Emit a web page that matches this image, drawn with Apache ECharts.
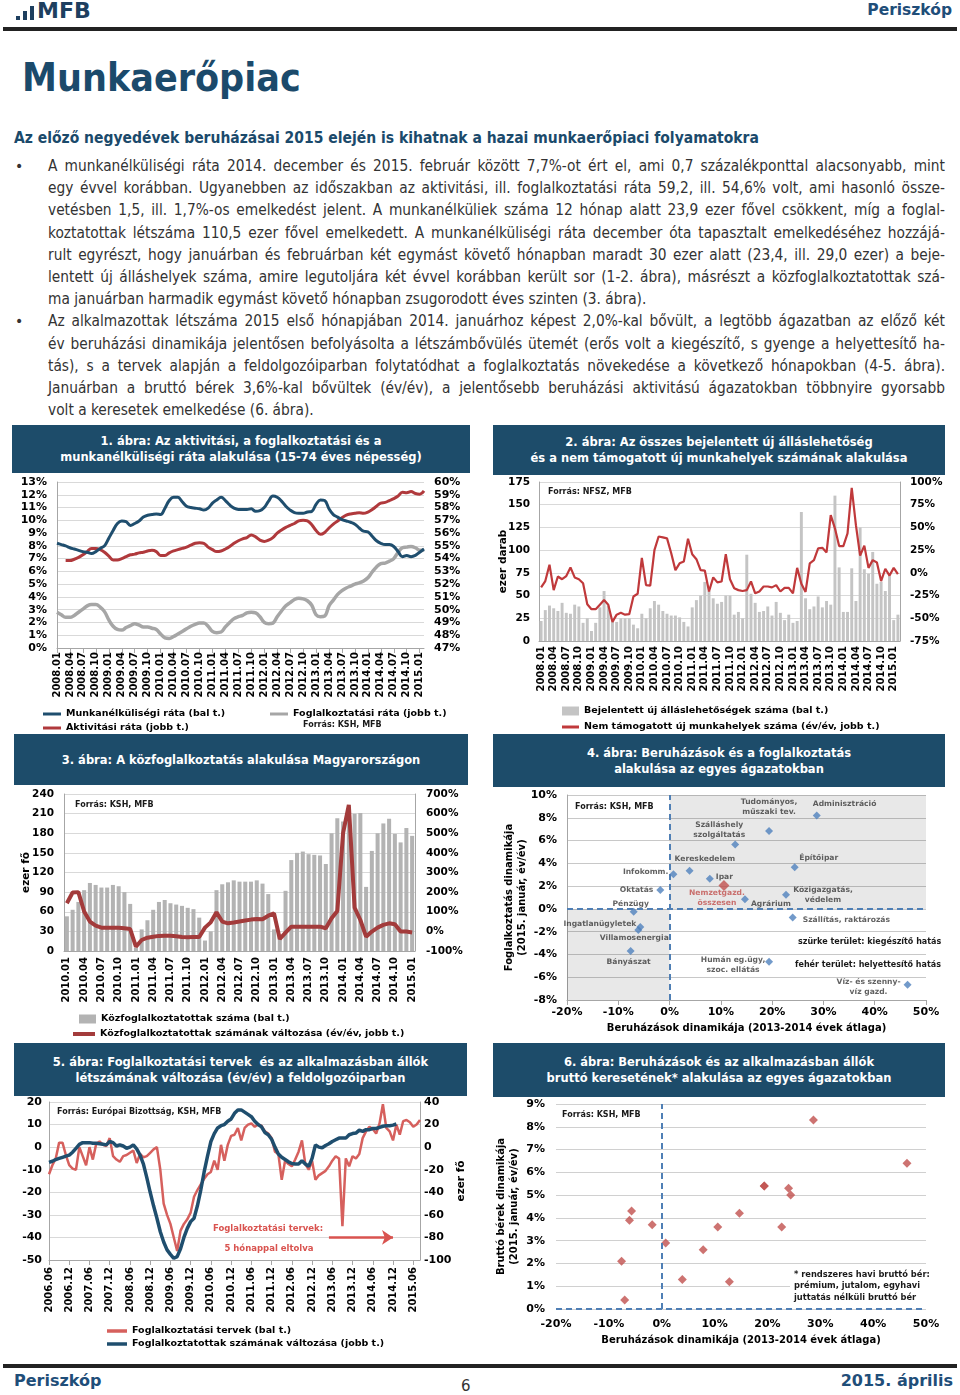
<!DOCTYPE html>
<html lang="hu"><head><meta charset="utf-8"><title>Munkaerőpiac</title>
<script src="https://cdn.jsdelivr.net/npm/echarts@6.0.0/dist/echarts.min.js"></script>
<style>
html,body{margin:0;padding:0;background:#fff;}
body{position:relative;width:960px;height:1395px;overflow:hidden;font-family:"DejaVu Sans",sans-serif;}
.a{position:absolute;}
.lb{position:absolute;background:#1e3f5f;width:4px;}
.hdr{position:absolute;background:#1d4c6a;color:#fff;font-weight:bold;font-size:11.5px;line-height:16px;text-align:center;display:flex;align-items:center;justify-content:center;font-family:"DejaVu Sans",sans-serif;}
.body{position:absolute;left:48px;width:897px;top:155px;font-family:"DejaVu Sans Condensed","DejaVu Sans",sans-serif;font-stretch:condensed;font-size:15.3px;line-height:22.2px;color:#333;}
.body div{text-align:justify;text-align-last:justify;}
.body div.l{text-align-last:left;}
.bul{position:absolute;left:15px;font-size:14px;color:#333;}
.ch{position:absolute;width:470px;}
</style></head>
<body>
<div class="lb" style="left:16px;top:16px;height:4px;"></div>
<div class="lb" style="left:23px;top:11px;height:9px;"></div>
<div class="lb" style="left:30px;top:6px;height:14px;"></div>
<div class="a" style="left:37px;top:-2px;font-weight:bold;font-size:22px;line-height:26px;color:#1e3f5f;">MFB</div>
<div class="a" style="right:8px;top:0px;font-weight:bold;font-size:15.5px;line-height:20px;color:#1f4e79;">Periszkóp</div>
<div class="a" style="left:3px;top:27px;width:954px;height:4px;background:#222;"></div>

<div class="a" style="left:22px;top:55px;font-family:'DejaVu Sans Condensed','DejaVu Sans',sans-serif;font-stretch:condensed;font-weight:bold;font-size:39px;line-height:46px;color:#1b4a6b;">Munkaerőpiac</div>
<div class="a" style="left:14px;top:128px;font-family:'DejaVu Sans Condensed','DejaVu Sans',sans-serif;font-stretch:condensed;font-weight:bold;font-size:15.5px;line-height:20px;color:#1b4a6b;">Az előző negyedévek beruházásai 2015 elején is kihatnak a hazai munkaerőpiaci folyamatokra</div>

<div class="bul" style="top:155px;line-height:22px;">•</div>
<div class="bul" style="top:310px;line-height:22px;">•</div>
<div class="body">
<div>A munkanélküliségi ráta 2014. december és 2015. február között 7,7%-ot ért el, ami 0,7 százalékponttal alacsonyabb, mint</div>
<div>egy évvel korábban. Ugyanebben az időszakban az aktivitási, ill. foglalkoztatási ráta 59,2, ill. 54,6% volt, ami hasonló össze-</div>
<div>vetésben 1,5, ill. 1,7%-os emelkedést jelent. A munkanélküliek száma 12 hónap alatt 23,9 ezer fővel csökkent, míg a foglal-</div>
<div>koztatottak létszáma 110,5 ezer fővel emelkedett. A munkanélküliségi ráta december óta tapasztalt emelkedéséhez hozzájá-</div>
<div>rult egyrészt, hogy januárban és februárban két egymást követő hónapban maradt 30 ezer alatt (23,4, ill. 29,0 ezer) a beje-</div>
<div>lentett új álláshelyek száma, amire legutoljára két évvel korábban került sor (1-2. ábra), másrészt a közfoglalkoztatottak szá-</div>
<div class="l">ma januárban harmadik egymást követő hónapban zsugorodott éves szinten (3. ábra).</div>
<div>Az alkalmazottak létszáma 2015 első hónapjában 2014. januárhoz képest 2,0%-kal bővült, a legtöbb ágazatban az előző két</div>
<div>év beruházási dinamikája jelentősen befolyásolta a létszámbővülés ütemét (erős volt a kiegészítő, s gyenge a helyettesítő ha-</div>
<div>tás), s a tervek alapján a feldolgozóiparban folytatódhat a foglalkoztatás növekedése a következő hónapokban (4-5. ábra).</div>
<div>Januárban a bruttó bérek 3,6%-kal bővültek (év/év), a jelentősebb beruházási aktivitású ágazatokban többnyire gyorsabb</div>
<div class="l">volt a keresetek emelkedése (6. ábra).</div>
</div>

<div class="hdr" style="left:12px;top:425px;width:458px;height:48px;"><span>1. ábra: Az aktivitási, a foglalkoztatási és a<br>munkanélküliségi ráta alakulása (15-74 éves népesség)</span></div>
<div class="hdr" style="left:493px;top:425px;width:452px;height:50px;"><span>2. ábra: Az összes bejelentett új álláslehetőség<br>és a nem támogatott új munkahelyek számának alakulása</span></div>
<div class="hdr" style="left:14px;top:734px;width:454px;height:51px;"><span>3. ábra: A közfoglalkoztatás alakulása Magyarországon</span></div>
<div class="hdr" style="left:493px;top:734px;width:452px;height:53px;"><span>4. ábra: Beruházások és a foglalkoztatás<br>alakulása az egyes ágazatokban</span></div>
<div class="hdr" style="left:14px;top:1043px;width:453px;height:53px;"><span>5. ábra: Foglalkoztatási tervek&nbsp; és az alkalmazásban állók<br>létszámának változása (év/év) a feldolgozóiparban</span></div>
<div class="hdr" style="left:493px;top:1043px;width:452px;height:54px;"><span>6. ábra: Beruházások és az alkalmazásban állók<br>bruttó keresetének* alakulása az egyes ágazatokban</span></div>

<div id="c1" class="ch" style="left:10px;top:473px;height:260px;"></div>
<div id="c2" class="ch" style="left:490px;top:475px;height:258px;"></div>
<div id="c3" class="ch" style="left:10px;top:787px;height:253px;"></div>
<div id="c4" class="ch" style="left:490px;top:787px;height:253px;"></div>
<div id="c5" class="ch" style="left:10px;top:1097px;height:263px;"></div>
<div id="c6" class="ch" style="left:490px;top:1097px;height:263px;"></div>

<div class="a" style="left:3px;top:1364px;width:954px;height:4px;background:#222;"></div>
<div class="a" style="left:14px;top:1371px;font-weight:bold;font-size:16px;line-height:20px;color:#1f4e79;">Periszkóp</div>
<div class="a" style="left:461px;top:1376px;font-size:15px;line-height:20px;color:#333;">6</div>
<div class="a" style="right:7px;top:1371px;font-weight:bold;font-size:16px;line-height:20px;color:#1f4e79;">2015. április</div>

<script>
// ---------- helpers (labels only) ----------
function months(y, m, n) {
  const a = [];
  for (let i = 0; i < n; i++) { a.push(y + '.' + String(m).padStart(2, '0')); m++; if (m > 12) { m = 1; y++; } }
  return a;
}

// ---------- Chart 1 data ----------
const cat1 = months(2008, 1, 86);
const unemployment = [8.2, 8.1, 8.0, 7.85, 7.75, 7.65, 7.55, 7.5, 7.4, 7.55, 7.8, 8.0,
  8.6, 9.2, 9.75, 9.95, 9.9, 9.6, 9.75, 9.95, 10.25, 10.4, 10.45, 10.5,
  10.45, 10.95, 11.55, 11.8, 11.8, 11.45, 11.1, 11.0, 10.95, 10.9, 10.8, 10.95,
  11.35, 11.6, 11.8, 11.55, 11.2, 10.95, 10.85, 10.85, 10.85, 10.9, 10.7, 10.75,
  11.0, 11.5, 11.9, 11.8, 11.5, 11.1, 10.8, 10.6, 10.55, 10.55, 10.65, 10.7,
  11.25, 11.6, 11.55, 10.9, 10.45, 10.25, 10.05, 9.95, 9.85, 9.7, 9.4, 9.15,
  9.1, 8.75, 8.4, 8.2, 8.1, 8.1, 7.95, 7.55, 7.15, 7.25, 7.15, 7.25,
  7.5, 7.75];
const activity = [null, null, 53.85, 53.85, 53.95, 54.1, 54.3, 54.55, 54.8, 54.8, 54.7, 54.5,
  54.2, 53.9, 53.9, 54.0, 54.15, 54.3, 54.35, 54.45, 54.5, 54.6, 54.65, 54.55,
  54.25, 54.25, 54.45, 54.6, 54.7, 54.8, 54.9, 55.05, 55.2, 55.25, 55.2, 54.9,
  54.7, 54.55, 54.6, 54.75, 54.95, 55.2, 55.4, 55.55, 55.65, 55.85, 55.7, 55.45,
  55.35, 55.45, 55.65, 56.0, 56.25, 56.45, 56.6, 56.75, 56.95, 57.0, 56.95, 56.65,
  56.2, 55.9, 56.05, 56.4, 56.7, 56.95, 57.2, 57.4, 57.5, 57.55, 57.6, 57.55,
  57.65, 57.85, 58.1, 58.35, 58.4, 58.55, 58.7, 58.9, 59.2, 59.15, 59.25, 59.1,
  59.05, 59.3];
const employment = [49.8, 49.6, 49.4, 49.4, 49.55, 49.8, 50.05, 50.3, 50.4, 50.4, 50.2, 49.85,
  49.2, 48.7, 48.45, 48.4, 48.6, 48.75, 48.9, 48.8, 48.65, 48.65, 48.55, 48.45,
  48.1, 47.8, 47.75, 47.9, 48.1, 48.3, 48.5, 48.7, 48.85, 48.95, 48.95, 48.7,
  48.3, 48.2, 48.25, 48.65, 49.0, 49.3, 49.45, 49.55, 49.75, 49.8, 49.75, 49.45,
  49.0, 48.9, 48.95, 49.45, 49.9, 50.3, 50.55, 50.8, 50.9, 50.85, 50.7, 50.35,
  49.6, 49.45, 49.5, 50.3, 50.75, 51.2, 51.5, 51.7, 51.85, 52.0, 52.1, 52.25,
  52.5, 52.95, 53.35, 53.6, 53.65, 53.8, 54.0, 54.5, 54.85, 54.9, 54.95, 54.85,
  54.65, 54.7];

// ---------- Chart 2 data ----------
const cat2 = months(2008, 1, 86);
const newVacancies = [22, 34, 39, 36, 33, 42, 31, 30, 40, 38, 20, 25,
  11, 20, 37, 55, 39, 21, 21, 25, 25, 25, 18, 14,
  30, 25, 36, 44, 40, 33, 30, 28, 28, 26, 21, 16,
  37, 45, 50, 65, 55, 47, 41, 43, 50, 50, 29, 32,
  25, 95, 52, 42, 32, 33, 38, 28, 43, 31, 23, 29,
  20, 22, 142, 47, 35, 38, 49, 37, 44, 40, 160, 81,
  32, 32, 80, 44, 125, 79, 74, 98, 63, 65, 55, 72,
  23, 29];
const unsupportedJobsYoY = [-16, -9, 9, -19, -4, -7, -3.5, 6, -5, -7, -11.5, -34.5,
  -40, -40, -35, -30, -35, -54, -46, -44, -46, -45.5, -26, -23,
  16.5, -13.5, -14, 25, 40, 39, 38, 21.5, 3, 10.5, 12.5, 37.5,
  20.5, 15, 3, 2.5, -20.5, -5, -10.5, -9.5, 20.5, -7, -17, -19,
  -20, -19, -9.5, -22.5, -20.5, -15, -15, -16, -13.5, -20.5, -16.5, -16.5,
  -22.5, 5.5, -12, -21, 10.5, 14, 27, 27.5, 22.5, 63.5, 49, 29.5,
  29.5, 43.5, 93.5, 52.5, 19, 30, 5.5, 14, 11.5, -9, 4.5, -3,
  5.5, -1.5];

// ---------- Chart 3 data ----------
const cat3 = months(2010, 1, 61);
const publicWorkers = [53, 63, 75, 93, 104, 101, 97, 97, 101, 99, 90, 72,
  5, 33, 47, 63, 75, 78, 73, 71, 69, 66, 64, 51,
  16, 30, 93, 102, 105, 108, 106, 106, 106, 108, 103, 87,
  33, 25, 92, 139, 150, 152, 148, 147, 146, 133, 180, 203,
  198, 205, 210, 211, 98, 153, 180, 195, 202, 179, 166, 188,
  176];
const publicWorkersYoY = [143, 198, 200, 101, 50, 29, 19, 19, 19, 19, 16, 12,
  -78, -44, -32, -27, -23, -22, -22, -25, -28.5, -30, -28.5, -28.5,
  19, 46, 97, 50, 41, 45, 50, 55, 60, 63, 62, 80,
  92, -39, -6, 24, 24, 24, 24, 24, 24, 16, 67, 104,
  501, 645, 121, 58, -27, -1, 19, 33, 41, 36, -1, -1,
  -6];

// ---------- Chart 4 & 6 data ----------
const sectors = ['Adminisztráció', 'Tudományos,\nműszaki tev.', 'Szálláshely\nszolgáltatás', 'Építőipar',
  'Kereskedelem', 'Infokomm.', 'Ipar', 'Nemzetgazd.\nösszesen', 'Oktatás', 'Közigazgatás,\nvédelem',
  'Agrárium', 'Pénzügy', 'Szállítás, raktározás', 'Ingatlanügyletek', 'Villamosenergia', 'Bányászat',
  'Humán eg.ügy,\nszoc. ellátás', 'Víz- és szenny-\nvíz gazd.'];
const investmentGrowth = [28.7, 19.4, 12.8, 24.4, 3.9, 0.75, 7.85, 10.6, -1.8, 22.7, 14.7, -7.0, 24.0, -5.7, -6.1, -7.6, 19.4, 46.4];
const employmentGrowth = [8.2, 6.85, 5.65, 3.65, 3.35, 3.05, 2.65, 2.05, 1.65, 1.25, 0.85, -0.25, -0.75, -1.6, -1.85, -3.7, -4.65, -6.65];
const wageGrowth = [8.3, 5.4, 1.2, 5.0, 1.3, 2.9, 2.6, 3.6, 3.7, 3.6, 4.2, 0.4, 5.3, 4.3, 3.9, 2.1, 5.4, 6.4];

// ---------- Chart 5 data ----------
const cat5 = months(2006, 6, 111);
const hiringPlans = [-12, -8, -5, 2, 2, -3.5, -8, -9.5, -10, 0, -4, -8,
  0, -5.5, 1.5, 2.5, 1, 0.5, 4, -4, -5.5, -6.5, -4, -3.5,
  -2.5, -1.5, -7, -3, -4.5, -4, -2.5, -1, 0, -10, -25, -30,
  -34, -40, -46, -37, -34, -32, -29, -22, -19, -16.5, -14, -12,
  -11, -6, -10, 1, -6, 1, 5, 5.5, 8.5, 3, 8.5, 10,
  10.5, 9, 10, 9.5, 7, 6, 4, -2, -3, -14.5, -6, -7.5,
  -8.5, -5.5, -2, 3, -7.5, -10, -6, -14.5, -12.5, -11.5, -10.5, -8.5,
  -6, -4, -5, -35, -5, -8.5, -4, -5, -3, 4, 7, 9,
  8, 6, 10.5, 19, 8.5, 7, 3, 10, 5.5, 11.5, 12, 11,
  9, 10, 12];
const employedChange = [-13.5, -12.5, -11, -10, -9, -8, -7, -4.5, -1, 2.5, 4, 4,
  4, 3.5, 3.5, 3, 2.5, 2, 5, 4, 1, 2, 1, -1,
  0, 2, -1.5, -7, -15, -27, -40, -52, -63, -75, -84, -91,
  -95, -98.5, -97, -90, -80, -72, -66, -63, -52, -38, -22, -8,
  5, 12, 17, 19, 20, 23, 25, 30, 33, 33, 31, 29,
  27, 23, 20, 18, 13, 11, 7, 0, -6, -9, -11, -13,
  -14.5, -15, -15, -12, -15, -17, -10, 2, 0, -0.5, 1.5, 3,
  5, 6.5, 8, 8, 8, 11, 12, 12.5, 15, 14, 15.5, 15.5,
  16.5, 16.5, 17.5, 18.5, 19, 19, 19.5, 20.5,
  null, null, null, null, null, null, null];

// ---------- styling ----------
const F = 'DejaVu Sans';
const AX = '#a6a6a6', GRIDC = '#d9d9d9';
function lab(o) { return Object.assign({ fontFamily: F, fontWeight: 'bold', fontSize: 10.5, color: '#000' }, o || {}); }
function src(text, left, top) {
  return { type: 'text', left: left, top: top, z: 100, style: { text: text, font: 'bold 8px "DejaVu Sans"', fill: '#1a1a1a' } };
}
function leg(name, left, top, w, h) {
  return { left: left, top: top, itemWidth: w, itemHeight: h, icon: 'rect', textStyle: lab({ fontSize: 9.5 }), data: [name] };
}
const BLUE = '#1f4e6e', RED1 = '#b0393c', GRAY1 = '#a6a6a6';

// ---------- Chart 1 ----------
const c1 = echarts.init(document.getElementById('c1'));
c1.setOption({
  animation: false,
  grid: { left: 47, right: 56, top: 9, bottom: 85, outerBoundsMode: 'none' },
  legend: [
    leg('Munkanélküliségi ráta (bal t.)', 28, 231, 18, 3),
    leg('Aktivitási ráta (jobb t.)', 28, 245, 18, 3),
    leg('Foglalkoztatási ráta (jobb t.)', 255, 231, 18, 3)
  ],
  graphic: [src('Forrás: KSH, MFB', 293, 248)],
  xAxis: { type: 'category', data: cat1, boundaryGap: false,
    axisLine: { onZero: false, lineStyle: { color: AX } }, axisTick: { interval: 2, lineStyle: { color: AX } },
    axisLabel: lab({ interval: 2, rotate: 90, fontSize: 10, margin: 4 }), splitLine: { show: false } },
  yAxis: [
    { type: 'value', min: 0, max: 13, interval: 1, axisLine: { show: true, lineStyle: { color: AX } }, axisTick: { show: false },
      splitLine: { lineStyle: { color: GRIDC } }, axisLabel: lab({ fontSize: 11, margin: 10, formatter: '{value}%' }) },
    { type: 'value', min: 47, max: 60, interval: 1, axisLine: { show: false }, axisTick: { show: false },
      splitLine: { show: false }, axisLabel: lab({ fontSize: 11, margin: 10, formatter: '{value}%' }) }
  ],
  series: [
    { name: 'Foglalkoztatási ráta (jobb t.)', type: 'line', yAxisIndex: 1, data: employment, showSymbol: false, smooth: 0.4,
      lineStyle: { color: GRAY1, width: 3.5 }, itemStyle: { color: GRAY1 } },
    { name: 'Aktivitási ráta (jobb t.)', type: 'line', yAxisIndex: 1, data: activity, showSymbol: false, smooth: 0.4,
      lineStyle: { color: RED1, width: 3 }, itemStyle: { color: RED1 } },
    { name: 'Munkanélküliségi ráta (bal t.)', type: 'line', yAxisIndex: 0, data: unemployment, showSymbol: false, smooth: 0.4,
      lineStyle: { color: BLUE, width: 3 }, itemStyle: { color: BLUE } }
  ]
});

// ---------- Chart 2 ----------
const c2 = echarts.init(document.getElementById('c2'));
c2.setOption({
  animation: false,
  grid: { left: 49, right: 60, top: 7, bottom: 92, outerBoundsMode: 'none' },
  legend: [
    leg('Bejelentett új álláslehetőségek száma (bal t.)', 67, 226, 17, 9),
    leg('Nem támogatott új munkahelyek száma (év/év, jobb t.)', 67, 242, 17, 3)
  ],
  graphic: [src('Forrás: NFSZ, MFB', 58, 13)],
  xAxis: { type: 'category', data: cat2, boundaryGap: true,
    axisLine: { onZero: false, lineStyle: { color: AX } }, axisTick: { interval: 2, lineStyle: { color: AX } },
    axisLabel: lab({ interval: 2, rotate: 90, fontSize: 10, margin: 5 }) },
  yAxis: [
    { type: 'value', min: 0, max: 175, interval: 25, name: 'ezer darab', nameLocation: 'middle', nameRotate: 90, nameGap: 30,
      nameMoveOverlap: false, nameTextStyle: lab({ fontSize: 10.5 }),
      axisLine: { show: true, lineStyle: { color: AX } }, axisTick: { show: false },
      splitLine: { lineStyle: { color: GRIDC } }, axisLabel: lab({ margin: 9 }) },
    { type: 'value', min: -75, max: 100, interval: 25, axisLine: { show: true, lineStyle: { color: AX } }, axisTick: { show: false },
      splitLine: { show: false }, axisLabel: lab({ margin: 10, formatter: '{value}%' }) }
  ],
  series: [
    { name: 'Bejelentett új álláslehetőségek száma (bal t.)', type: 'bar', data: newVacancies, barCategoryGap: '30%',
      itemStyle: { color: '#c4c4c4' } },
    { name: 'Nem támogatott új munkahelyek száma (év/év, jobb t.)', type: 'line', yAxisIndex: 1, data: unsupportedJobsYoY,
      showSymbol: false, lineStyle: { color: '#c0393b', width: 2.2 }, itemStyle: { color: '#c0393b' } }
  ]
});

// ---------- Chart 3 ----------
const c3 = echarts.init(document.getElementById('c3'));
c3.setOption({
  animation: false,
  grid: { left: 54, right: 65, top: 7, bottom: 89, outerBoundsMode: 'none' },
  legend: [
    leg('Közfoglalkoztatottak száma (bal t.)', 64, 222, 17, 9),
    leg('Közfoglalkoztatottak számának változása (év/év, jobb t.)', 58, 237, 22, 4)
  ],
  graphic: [src('Forrás: KSH, MFB', 65, 14)],
  xAxis: { type: 'category', data: cat3, boundaryGap: true,
    axisLine: { onZero: false, lineStyle: { color: AX } }, axisTick: { interval: 2, lineStyle: { color: AX } },
    axisLabel: lab({ interval: 2, rotate: 90, fontSize: 10, margin: 6 }) },
  yAxis: [
    { type: 'value', min: 0, max: 240, interval: 30, name: 'ezer fő', nameLocation: 'middle', nameRotate: 90, nameGap: 32,
      nameMoveOverlap: false, nameTextStyle: lab({ fontSize: 10.5 }),
      axisLine: { show: true, lineStyle: { color: AX } }, axisTick: { show: false },
      splitLine: { lineStyle: { color: GRIDC } }, axisLabel: lab({ margin: 10 }) },
    { type: 'value', min: -100, max: 700, interval: 100, axisLine: { show: true, lineStyle: { color: AX } }, axisTick: { show: false },
      splitLine: { show: false }, axisLabel: lab({ margin: 11, formatter: '{value}%' }) }
  ],
  series: [
    { name: 'Közfoglalkoztatottak száma (bal t.)', type: 'bar', data: publicWorkers, barCategoryGap: '30%',
      itemStyle: { color: '#b3b3b3' } },
    { name: 'Közfoglalkoztatottak számának változása (év/év, jobb t.)', type: 'line', yAxisIndex: 1, data: publicWorkersYoY,
      showSymbol: false, lineStyle: { color: '#a33b3b', width: 4 }, itemStyle: { color: '#a33b3b' } }
  ]
});

// ---------- Chart 4 ----------
// label placement around each point: [align, dx, dy]
const labelPlace4 = [['left', -4, -11], ['center', 0, -24], ['center', -16, -15], ['center', 24, -9],
  ['left', -15, -12], ['right', -5, -2], ['left', 6, -2], ['center', -7, 12], ['right', -7, 0], ['center', 37, 0],
  ['left', 6, 5], ['center', -3, -8], ['left', 10, 3], ['right', -4, -3], ['center', -4, 8], ['center', -2, 11],
  ['center', -36, 3], ['center', -39, 2]];
const totalIdx = 7;
const pts4 = sectors.map(function (s, i) {
  const p = labelPlace4[i];
  const tot = i === totalIdx;
  return {
    name: s, value: [investmentGrowth[i], employmentGrowth[i]],
    symbolSize: tot ? 11 : 8,
    itemStyle: { color: tot ? '#c0504d' : '#4f81bd' },
    label: { show: true, position: 'inside', formatter: '{b}', align: p[0], verticalAlign: 'middle', offset: [p[1], p[2]],
      fontFamily: F, fontWeight: 'bold', fontSize: 7.6, lineHeight: 10, color: tot ? '#c0504d' : '#3a3a3a' }
  };
});
const c4 = echarts.init(document.getElementById('c4'));
c4.setOption({
  animation: false,
  grid: { left: 77, right: 34, top: 8, bottom: 40, outerBoundsMode: 'none' },
  graphic: [src('Forrás: KSH, MFB', 85, 16),
    src('szürke terület: kiegészítő hatás', 308, 151),
    src('fehér terület: helyettesítő hatás', 305, 174)],
  xAxis: { type: 'value', min: -20, max: 50, interval: 10, name: 'Beruházások dinamikája (2013-2014 évek átlaga)',
    nameLocation: 'middle', nameGap: 23, nameMoveOverlap: false, nameTextStyle: lab({ fontSize: 10 }),
    axisLine: { onZero: false, lineStyle: { color: AX } }, axisTick: { show: true, lineStyle: { color: AX } },
    splitLine: { show: false }, axisLabel: lab({ fontSize: 11, margin: 7, formatter: '{value}%' }) },
  yAxis: { type: 'value', min: -8, max: 10, interval: 2, name: 'Foglalkoztatás dinamikája\n(2015. január, év/év)',
    nameLocation: 'middle', nameRotate: 90, nameGap: 38, nameMoveOverlap: false, nameTextStyle: lab({ fontSize: 10, lineHeight: 13 }),
    axisLine: { onZero: false, show: true, lineStyle: { color: AX } }, axisTick: { show: false },
    splitLine: { lineStyle: { color: '#c8c8c8' } }, axisLabel: lab({ fontSize: 11, margin: 10, formatter: '{value}%' }) },
  series: [{
    type: 'scatter', symbol: 'diamond', data: pts4, z: 5,
    markArea: { silent: true, itemStyle: { color: 'rgba(0,0,0,0.09)' },
      data: [[{ coord: [0, 0] }, { coord: [50, 10] }], [{ coord: [-20, -8] }, { coord: [0, 0] }]] },
    markLine: { silent: true, symbol: 'none', label: { show: false },
      lineStyle: { color: '#4f7fb5', width: 2, type: [6, 4] },
      data: [{ xAxis: 0 }, { yAxis: 0 }] }
  }]
});

// ---------- Chart 5 ----------
const c5 = echarts.init(document.getElementById('c5'));
const ARR = '#d9534f';
c5.setOption({
  animation: false,
  grid: { left: 39, right: 60, top: 5, bottom: 100, outerBoundsMode: 'none' },
  legend: { orient: 'vertical', left: 92, top: 224, itemWidth: 20, itemHeight: 3.5, itemGap: 3, icon: 'rect',
    textStyle: lab({ fontSize: 9.5 }), data: ['Foglalkoztatási tervek (bal t.)', 'Foglalkoztatottak számának változása (jobb t.)'] },
  graphic: [src('Forrás: Európai Bizottság, KSH, MFB', 47, 11),
    { type: 'text', x: 258, y: 132, z: 100, style: { text: 'Foglalkoztatási tervek:', align: 'center', verticalAlign: 'middle', textAlign: 'center', textVerticalAlign: 'middle', font: 'bold 8.5px "DejaVu Sans"', fill: ARR } },
    { type: 'text', x: 259, y: 152, z: 100, style: { text: '5 hónappal eltolva', align: 'center', verticalAlign: 'middle', textAlign: 'center', textVerticalAlign: 'middle', font: 'bold 8.5px "DejaVu Sans"', fill: ARR } }
  ],
  xAxis: { type: 'category', data: cat5, boundaryGap: false,
    axisLine: { onZero: false, lineStyle: { color: AX } }, axisTick: { interval: 5, lineStyle: { color: AX } },
    axisLabel: lab({ interval: 5, rotate: 90, fontSize: 10, margin: 7 }) },
  yAxis: [
    { type: 'value', min: -50, max: 20, interval: 10, axisLine: { show: true, lineStyle: { color: AX } }, axisTick: { show: false },
      splitLine: { lineStyle: { color: GRIDC } }, axisLabel: lab({ fontSize: 11, margin: 7 }) },
    { type: 'value', min: -100, max: 40, interval: 20, name: 'ezer fő', nameLocation: 'middle', nameRotate: 90, nameGap: 36,
      nameMoveOverlap: false, nameTextStyle: lab({ fontSize: 10.5 }),
      axisLine: { show: true, lineStyle: { color: AX } }, axisTick: { show: false },
      splitLine: { show: false }, axisLabel: lab({ fontSize: 11, margin: 4 }) }
  ],
  series: [
    { name: 'Foglalkoztatási tervek (bal t.)', type: 'line', yAxisIndex: 0, data: hiringPlans, showSymbol: false,
      lineStyle: { color: '#d6605d', width: 2.5 }, itemStyle: { color: '#d6605d' },
      markLine: { silent: true, symbol: ['none', 'arrow'], symbolSize: 11, label: { show: false },
        lineStyle: { color: ARR, width: 2.5, type: 'solid' }, itemStyle: { color: ARR },
        data: [[{ coord: [cat5[83], -40] }, { coord: [cat5[102], -40] }]] } },
    { name: 'Foglalkoztatottak számának változása (jobb t.)', type: 'line', yAxisIndex: 1, data: employedChange, showSymbol: false,
      lineStyle: { color: BLUE, width: 3.5 }, itemStyle: { color: BLUE } }
  ]
});

// ---------- Chart 6 ----------
const c6 = echarts.init(document.getElementById('c6'));
c6.setOption({
  animation: false,
  grid: { left: 66, right: 34, top: 7, bottom: 51, outerBoundsMode: 'none' },
  graphic: [src('Forrás: KSH, MFB', 72, 14),
    { type: 'text', left: 300, top: 172, z: 100, style: { text: '* rendszeres havi bruttó bér:\nprémium, jutalom, egyhavi\njuttatás nélküli bruttó bér',
      font: 'bold 8.3px "DejaVu Sans"', lineHeight: 11.5, fill: '#1a1a1a', backgroundColor: '#fff', padding: [0, 2, 0, 4] } }],
  xAxis: { type: 'value', min: -20, max: 50, interval: 10, name: 'Beruházások dinamikája (2013-2014 évek átlaga)',
    nameLocation: 'middle', nameGap: 26, nameMoveOverlap: false, nameTextStyle: lab({ fontSize: 10 }),
    axisLine: { show: false, onZero: false }, axisTick: { show: false },
    splitLine: { show: false }, axisLabel: lab({ fontSize: 11, margin: 10, formatter: '{value}%' }) },
  yAxis: { type: 'value', min: 0, max: 9, interval: 1, name: 'Bruttó bérek dinamikája\n(2015. január, év/év)',
    nameLocation: 'middle', nameRotate: 90, nameGap: 35, nameMoveOverlap: false, nameTextStyle: lab({ fontSize: 10, lineHeight: 13 }),
    axisLine: { show: false }, axisTick: { show: false },
    splitLine: { lineStyle: { color: '#d0d0d0' } }, axisLabel: lab({ fontSize: 11, margin: 11, formatter: '{value}%' }) },
  series: [{
    type: 'scatter', symbol: 'diamond', symbolSize: 9, itemStyle: { color: '#c0504d' },
    data: sectors.map(function (s, i) { return { name: s, value: [investmentGrowth[i], wageGrowth[i]] }; }),
    markLine: { silent: true, symbol: 'none', label: { show: false },
      lineStyle: { color: '#4f7fb5', width: 2, type: [6, 4] },
      data: [{ xAxis: 0 }, { yAxis: 0 }] }
  }]
});
</script>
</body></html>
